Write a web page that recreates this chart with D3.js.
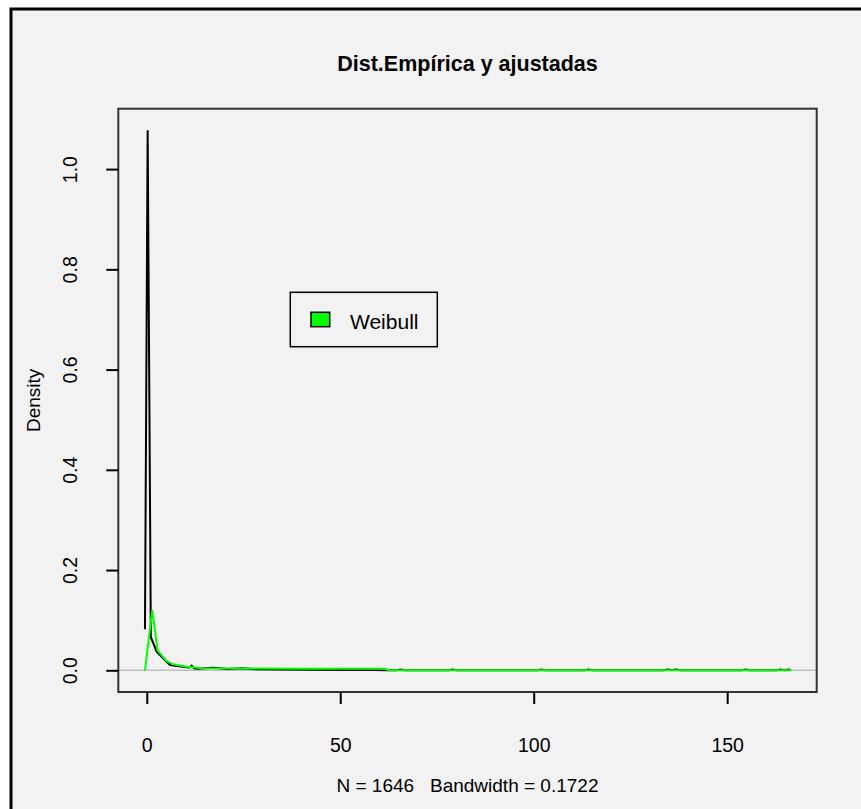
<!DOCTYPE html>
<html>
<head>
<meta charset="utf-8">
<script src="https://cdn.jsdelivr.net/npm/d3@7"></script>
<style>
  body { margin: 0; background: #ffffff; }
  text { font-family: "Liberation Sans", Arial, sans-serif; fill: #000; }
</style>
</head>
<body>
<div id="chart"></div>
<script>
var svgWidth = 861;
var svgHeight = 809;

// plot region (the R box)
var box = { left: 118.3, right: 816.7, top: 108.7, bottom: 692 };

// data
var xTicks = [0, 50, 100, 150];
var yTicks = [0, 0.2, 0.4, 0.6, 0.8, 1.0];
var yTickLabels = ["0.0", "0.2", "0.4", "0.6", "0.8", "1.0"];

// empirical density (black)
var empX = [-0.47, 0.23, 1.05, 1.68, 2.56, 3.85, 5.14, 6.0, 7.3, 8.8, 10.3, 11.0, 11.6, 12.2, 12.9,
  15, 17.1, 18.9, 21, 24.9, 28, 35, 45, 52, 58, 62, 64.5, 65.6, 66.7, 78, 79, 80, 101, 102, 103,
  113.2, 114.2, 115.2, 133.5, 134.5, 135.7, 136.9, 137.9, 153.8, 154.8, 155.8, 162.8, 163.8, 164.8, 165.9, 166.4];
var empY = [0.082, 1.0776, 0.066, 0.054, 0.037, 0.027, 0.017, 0.0106, 0.0092, 0.0075, 0.006, 0.0055, 0.0092, 0.004, 0.0032,
  0.004, 0.005, 0.004, 0.0025, 0.004, 0.002, 0.0015, 0.001, 0.0008, 0.0005, 0.0003, 0, 0.0016, 0, 0, 0.0016, 0, 0, 0.0016, 0,
  0, 0.0016, 0, 0, 0.0016, 0.0005, 0.0016, 0, 0, 0.0016, 0, 0, 0.0016, 0.0003, 0.0016, 0];

// fitted Weibull (green)
var weibX = [-0.47, 1.42, 2.8, 3.85, 5.1, 6.8, 10.3, 14.6, 23.2, 40, 61.5, 62.5, 166.6];
var weibY = [0, 0.12, 0.040, 0.030, 0.0186, 0.012, 0.007, 0.004, 0.0035, 0.003, 0.003, 0.0003, 0.0003];

var legendLabels = ["Weibull"];
var legendColors = ["#00ff00"];

var svg = d3.select("#chart")
  .append("svg")
  .attr("width", svgWidth)
  .attr("height", svgHeight);

// outer frame
svg.append("rect")
  .attr("x", 11).attr("y", 9)
  .attr("width", 880).attr("height", 830)
  .attr("fill", "#f2f2f2")
  .attr("stroke", "#000")
  .attr("stroke-width", 3);

var xScale = d3.scaleLinear()
  .domain([-7.36, 173.14])
  .range([box.left, box.right]);

var yScale = d3.scaleLinear()
  .domain([-0.0433, 1.1205])
  .range([box.bottom, box.top]);

// zero line
svg.append("line")
  .attr("x1", box.left).attr("x2", box.right)
  .attr("y1", yScale(0)).attr("y2", yScale(0))
  .attr("stroke", "#bebebe")
  .attr("stroke-width", 1.5);

var line = d3.line()
  .x(d => xScale(d[0]))
  .y(d => yScale(d[1]));

var empData = empX.map((x, i) => [x, empY[i]]);
var weibData = weibX.map((x, i) => [x, weibY[i]]);

svg.append("path")
  .datum(empData)
  .attr("d", line)
  .attr("fill", "none")
  .attr("stroke", "#000")
  .attr("stroke-width", 2);

svg.append("path")
  .datum(weibData)
  .attr("d", line)
  .attr("fill", "none")
  .attr("stroke", legendColors[0])
  .attr("stroke-width", 2);

// box
svg.append("rect")
  .attr("x", box.left).attr("y", box.top)
  .attr("width", box.right - box.left)
  .attr("height", box.bottom - box.top)
  .attr("fill", "none")
  .attr("stroke", "#333")
  .attr("stroke-width", 2);

// axes
var bottomAxis = d3.axisBottom(xScale)
  .tickValues(xTicks)
  .tickSize(12)
  .tickPadding(34)
  .tickFormat(d3.format("d"));

var leftAxis = d3.axisLeft(yScale)
  .tickValues(yTicks)
  .tickSize(12)
  .tickFormat((d, i) => yTickLabels[i]);

var xAxisG = svg.append("g")
  .attr("transform", `translate(0, ${box.bottom})`)
  .call(bottomAxis);
xAxisG.select(".domain").remove();
xAxisG.selectAll("line").attr("stroke", "#000").attr("stroke-width", 2);
xAxisG.selectAll("text")
  .attr("font-size", "19.5px")
  .attr("font-family", "Liberation Sans, Arial, sans-serif")
  .attr("fill", "#000");

var yAxisG = svg.append("g")
  .attr("transform", `translate(${box.left}, 0)`)
  .call(leftAxis);
yAxisG.select(".domain").remove();
yAxisG.selectAll("line").attr("stroke", "#000").attr("stroke-width", 2);
yAxisG.selectAll("text")
  .attr("font-size", "19.5px")
  .attr("font-family", "Liberation Sans, Arial, sans-serif")
  .attr("fill", "#000")
  .attr("text-anchor", "middle")
  .attr("x", 0)
  .attr("dy", null)
  .attr("transform", "translate(-48,0) rotate(-90)")
  .attr("y", 0)
  .attr("dominant-baseline", "central");

// title
svg.append("text")
  .attr("x", (box.left + box.right) / 2)
  .attr("y", 71)
  .attr("text-anchor", "middle")
  .attr("font-size", "21.5px")
  .attr("font-weight", "bold")
  .text("Dist.Empírica y ajustadas");

// axis labels
svg.append("text")
  .attr("x", (box.left + box.right) / 2)
  .attr("y", 792)
  .attr("text-anchor", "middle")
  .attr("font-size", "19px")
  .attr("xml:space", "preserve")
  .text("N = 1646   Bandwidth = 0.1722");

svg.append("text")
  .attr("transform", `translate(40, ${(box.top + box.bottom) / 2}) rotate(-90)`)
  .attr("text-anchor", "middle")
  .attr("font-size", "19px")
  .text("Density");

// legend
var legend = svg.append("g").attr("transform", "translate(290.3, 292.3)");
legend.append("rect")
  .attr("width", 147).attr("height", 54.4)
  .attr("fill", "none")
  .attr("stroke", "#000")
  .attr("stroke-width", 1.5);
legend.selectAll("rect.key")
  .data(legendLabels)
  .enter()
  .append("rect")
  .attr("class", "key")
  .attr("x", 20.7).attr("y", 20)
  .attr("width", 18.7).attr("height", 14.4)
  .attr("fill", (d, i) => legendColors[i])
  .attr("stroke", "#000")
  .attr("stroke-width", 1.5);
legend.selectAll("text")
  .data(legendLabels)
  .enter()
  .append("text")
  .attr("x", 59.7).attr("y", 37)
  .attr("font-size", "21px")
  .text(d => d);
</script>
</body>
</html>
